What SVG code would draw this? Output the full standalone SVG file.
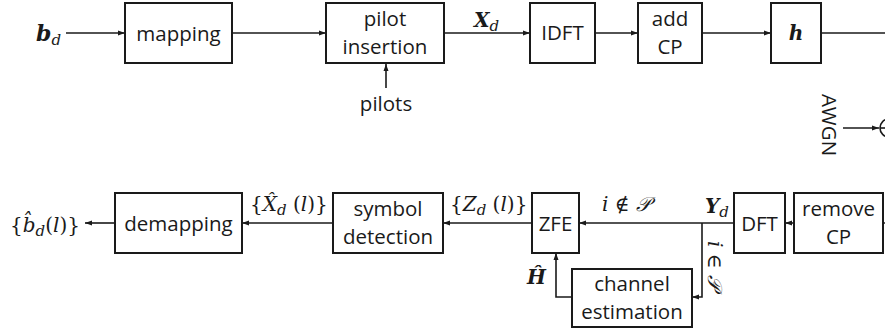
<svg xmlns="http://www.w3.org/2000/svg" width="885" height="335" viewBox="0 0 885 335">
<defs>
<marker id="ah" markerWidth="7" markerHeight="6" refX="7" refY="3" orient="auto" markerUnits="userSpaceOnUse">
<path d="M0,0.5 L7,3 L0,5.5 z" fill="#1a1a1a"/>
</marker>
<style>
.box{fill:#fff;stroke:#1a1a1a;stroke-width:2}
.ln{fill:none;stroke:#1a1a1a;stroke-width:1.6}
.ar{fill:none;stroke:#1a1a1a;stroke-width:1.6;marker-end:url(#ah)}
.t{font-family:"Open Sans","Noto Sans",sans-serif;font-size:20.5px;fill:#1a1a1a;text-anchor:middle}
.m{font-family:"DejaVu Serif","Liberation Serif",serif;font-size:20px;fill:#1a1a1a}
.bi{font-weight:bold;font-style:italic}
.i{font-style:italic}
.s{font-size:15px}
</style>
</defs>
<rect width="885" height="335" fill="#fff"/>
<g id="connectors">
<line class="ar" x1="66" y1="33" x2="125" y2="33"/>
<line class="ar" x1="232" y1="33" x2="326" y2="33"/>
<line class="ar" x1="444" y1="33" x2="530" y2="33"/>
<line class="ar" x1="595" y1="33" x2="638" y2="33"/>
<line class="ar" x1="702" y1="33" x2="771" y2="33"/>
<line class="ln" x1="821" y1="33" x2="885" y2="33"/>
<line class="ar" x1="386" y1="88" x2="386" y2="64"/>
<line class="ar" x1="843" y1="128" x2="879" y2="128"/>
<line class="ar" x1="115" y1="223" x2="85" y2="223"/>
<line class="ar" x1="333" y1="223" x2="242" y2="223"/>
<line class="ar" x1="532" y1="223" x2="443" y2="223"/>
<line class="ar" x1="734" y1="223" x2="579" y2="223"/>
<line class="ar" x1="794" y1="223" x2="785" y2="223"/>
<line class="ln" x1="885" y1="223" x2="883" y2="223"/>
<polyline class="ar" points="702,223 702,297 692,297"/>
<polyline class="ar" points="572,297 556,297 556,253"/>
</g>
<g id="n_bd"><text class="m" x="36" y="41"><tspan class="bi" font-size="22">b</tspan><tspan class="i s" dy="4">d</tspan></text></g>
<g id="n_mapping"><rect class="box" x="125" y="3" width="107" height="60"/><text class="t" x="178.5" y="41">mapping</text></g>
<g id="n_pilotins"><rect class="box" x="326" y="3" width="118" height="60"/><text class="t" x="385" y="26">pilot</text><text class="t" x="385" y="54">insertion</text></g>
<g id="n_pilots"><text class="t" x="386" y="111">pilots</text></g>
<g id="n_xd"><text class="m" x="474" y="27"><tspan class="bi">X</tspan><tspan class="i s" dy="4">d</tspan></text></g>
<g id="n_idft"><rect class="box" x="530" y="3" width="65" height="60"/><text class="t" x="562.5" y="40">IDFT</text></g>
<g id="n_addcp"><rect class="box" x="638" y="3" width="64" height="60"/><text class="t" x="670" y="26">add</text><text class="t" x="670" y="54">CP</text></g>
<g id="n_h"><rect class="box" x="771" y="3" width="50" height="60"/><text class="m bi" x="796" y="40" text-anchor="middle" font-size="22">h</text></g>
<g id="n_awgn"><text class="t" transform="translate(822,125) rotate(90)">AWGN</text></g>
<g id="n_sum"><circle cx="889" cy="128" r="9" fill="#fff" stroke="#1a1a1a" stroke-width="1.6"/><line class="ln" x1="880" y1="128" x2="898" y2="128"/></g>
<g id="n_bhat"><text class="m" x="10" y="232" font-size="22">{<tspan class="i">b̂</tspan><tspan class="i s" dy="4">d</tspan><tspan dy="-4">(</tspan><tspan class="i">l</tspan>)}</text></g>
<g id="n_demapping"><rect class="box" x="115" y="193" width="127" height="60"/><text class="t" x="178.5" y="231">demapping</text></g>
<g id="n_xhat"><text class="m" x="250" y="211">{<tspan class="i">X̂</tspan><tspan class="i s" dy="4">d</tspan><tspan dy="-4"> (</tspan><tspan class="i">l</tspan>)}</text></g>
<g id="n_symdet"><rect class="box" x="333" y="193" width="110" height="60"/><text class="t" x="388" y="216">symbol</text><text class="t" x="388" y="244">detection</text></g>
<g id="n_zd"><text class="m" x="450" y="211">{<tspan class="i">Z</tspan><tspan class="i s" dy="4">d</tspan><tspan dy="-4"> (</tspan><tspan class="i">l</tspan>)}</text></g>
<g id="n_zfe"><rect class="box" x="532" y="193" width="47" height="60"/><text class="t" x="555.5" y="231">ZFE</text></g>
<g id="n_notin"><text class="m" x="602" y="211"><tspan class="i">i</tspan> ∉ <tspan class="i">𝒫</tspan></text></g>
<g id="n_yd"><text class="m" x="705" y="213"><tspan class="bi">Y</tspan><tspan class="i s" dy="4">d</tspan></text></g>
<g id="n_dft"><rect class="box" x="734" y="193" width="51" height="60"/><text class="t" x="759.5" y="231">DFT</text></g>
<g id="n_removecp"><rect class="box" x="794" y="193" width="89" height="60"/><text class="t" x="838.5" y="216">remove</text><text class="t" x="838.5" y="244">CP</text></g>
<g id="n_chest"><rect class="box" x="572" y="269" width="120" height="58"/><text class="t" x="632" y="291">channel</text><text class="t" x="632" y="319">estimation</text></g>
<g id="n_hhat"><text class="m bi" x="527" y="284">Ĥ</text></g>
<g id="n_in"><text class="m" transform="translate(708,265) rotate(90)" text-anchor="middle"><tspan class="i">i</tspan> ∈ <tspan class="i">𝒫</tspan></text></g>
</svg>
